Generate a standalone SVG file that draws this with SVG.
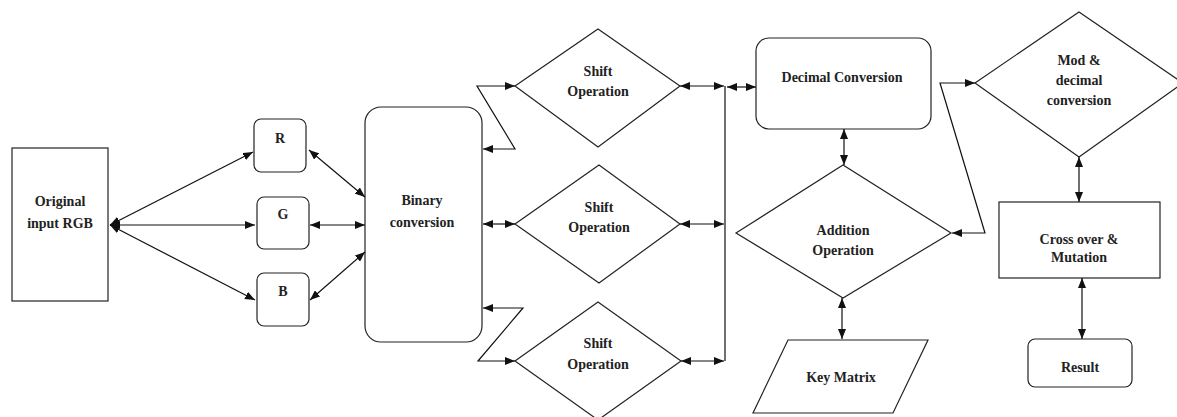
<svg xmlns="http://www.w3.org/2000/svg" width="1177" height="417" viewBox="0 0 1177 417">
<style>
.n{fill:#fff;stroke:#222;stroke-width:1.2}
.t{font-family:"Liberation Serif","Times New Roman",serif;font-weight:bold;font-size:14px;fill:#222;text-anchor:middle}
.c{fill:none;stroke:#111;stroke-width:1.2}
.a{marker-start:url(#ah);marker-end:url(#ah)}
.e{marker-end:url(#ah)}
</style>
<defs>
<marker id="ah" markerUnits="userSpaceOnUse" markerWidth="10" markerHeight="8" refX="10" refY="4" orient="auto-start-reverse">
<path d="M0,0 L10,4 L0,8 z" fill="#111"/>
</marker>
</defs>
<rect width="1177" height="417" fill="#fff"/>
<g id="orig"><rect class="n" x="12" y="148" width="96" height="153"/><text class="t" x="60" y="206">Original</text><text class="t" x="60" y="228">input RGB</text></g>
<g id="r"><rect class="n" x="254" y="119" width="52" height="53" rx="7"/><text class="t" x="280" y="143">R</text></g>
<g id="g"><rect class="n" x="257" y="197" width="52" height="52" rx="7"/><text class="t" x="283" y="219">G</text></g>
<g id="b"><rect class="n" x="257" y="273" width="52" height="53" rx="7"/><text class="t" x="283" y="296">B</text></g>
<g id="binary"><rect class="n" x="365" y="107" width="117" height="235" rx="16"/><text class="t" x="422" y="205">Binary</text><text class="t" x="422" y="227">conversion</text></g>
<g id="shift1"><polygon class="n" points="515,86 598,29 680,86 598,147"/><text class="t" x="598" y="76">Shift</text><text class="t" x="598" y="96">Operation</text></g>
<g id="shift2"><polygon class="n" points="515,224 599,165 680,224 599,283"/><text class="t" x="599" y="212">Shift</text><text class="t" x="599" y="232">Operation</text></g>
<g id="shift3"><polygon class="n" points="515,361 598,302 681,361 598,420"/><text class="t" x="598" y="348">Shift</text><text class="t" x="598" y="369">Operation</text></g>
<g id="decimal"><rect class="n" x="756" y="38" width="175" height="91" rx="13"/><text class="t" x="842" y="82">Decimal Conversion</text></g>
<g id="addition"><polygon class="n" points="736,233 843,165 951,233 843,298"/><text class="t" x="843" y="235">Addition</text><text class="t" x="843" y="255">Operation</text></g>
<g id="key"><polygon class="n" points="788,340 928,340 893,413 753,413"/><text class="t" x="841" y="382">Key Matrix</text></g>
<g id="mod"><polygon class="n" points="975,83 1079,12 1183,83 1079,157"/><text class="t" x="1079" y="65">Mod &amp;</text><text class="t" x="1079" y="85">decimal</text><text class="t" x="1079" y="105">conversion</text></g>
<g id="cross"><rect class="n" x="999" y="202" width="161" height="76"/><text class="t" x="1079" y="244">Cross over &amp;</text><text class="t" x="1079" y="262">Mutation</text></g>
<g id="result"><rect class="n" x="1028" y="339" width="104" height="48" rx="7"/><text class="t" x="1080" y="372">Result</text></g>
<g id="connectors">
<line class="c a" x1="110" y1="225" x2="253" y2="152"/>
<line class="c a" x1="110" y1="225" x2="255" y2="225"/>
<line class="c a" x1="110" y1="225" x2="255" y2="300"/>
<line class="c a" x1="309" y1="150" x2="365" y2="197"/>
<line class="c a" x1="310" y1="225" x2="365" y2="225"/>
<line class="c a" x1="310" y1="300" x2="365" y2="252"/>
<polyline class="c a" points="483,149 515,149 477,86 515,86"/>
<line class="c a" x1="483" y1="224" x2="515" y2="224"/>
<polyline class="c a" points="483,308 523,308 478,361 515,361"/>
<line class="c a" x1="680" y1="86" x2="724" y2="86"/>
<line class="c a" x1="680" y1="224" x2="724" y2="224"/>
<line class="c a" x1="681" y1="361" x2="724" y2="361"/>
<line class="c" x1="725" y1="86" x2="725" y2="361"/>
<line class="c a" x1="727" y1="87" x2="756" y2="87"/>
<line class="c a" x1="844" y1="129" x2="844" y2="165"/>
<line class="c a" x1="842" y1="298" x2="842" y2="339"/>
<polyline class="c a" points="952,233 985,233 940,83 975,83"/>
<line class="c a" x1="1079" y1="157" x2="1079" y2="202"/>
<line class="c a" x1="1082" y1="278" x2="1082" y2="339"/>
</g>
</svg>
